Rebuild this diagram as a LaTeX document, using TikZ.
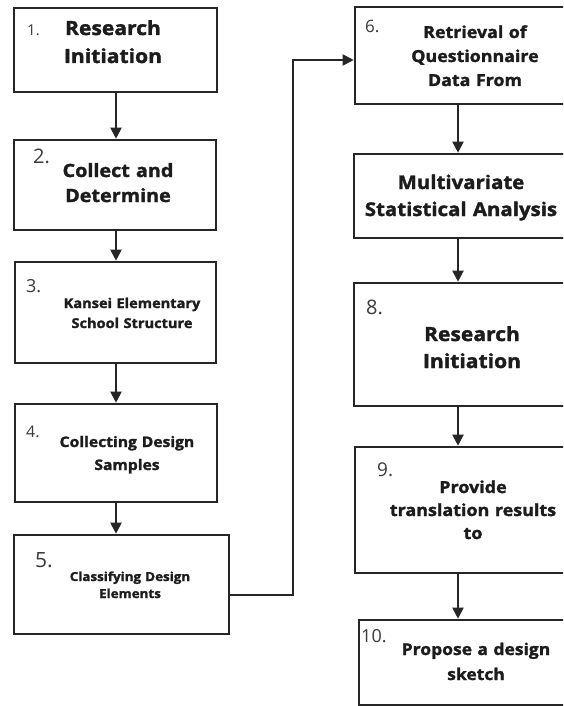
\documentclass[tikz,border=0pt]{standalone}
\usepackage{fontspec}
\setmainfont{Open Sans}
\newfontfamily\boxfont{Open Sans}[FakeStretch=1.08,FakeBold=1.6]
\usetikzlibrary{arrows.meta}
\definecolor{linec}{HTML}{262626}
\definecolor{textc}{HTML}{1C1C1C}
\definecolor{numc}{HTML}{3A3A3A}
\tikzset{
  box/.style={draw=linec, line width=2.6pt, inner sep=0pt, fill=white},
  txt/.style={text width=230pt, align=center, anchor=base, inner sep=0pt, text=textc},
  num/.style={anchor=base west, inner sep=0pt, text=numc},
  arr/.style={draw=linec, line width=2pt, line join=miter, -{Triangle[length=11pt,width=11pt]}}
}
\newcommand{\bx}[2]{\boxfont\bfseries\fontsize{#1}{#2}\selectfont}
\newcommand{\nm}[1]{\fontsize{#1}{#1}\selectfont}
\begin{document}
\begin{tikzpicture}[x=1pt,y=-1pt]
\useasboundingbox (0,0) rectangle (563,706);
\clip (0,0) rectangle (563,706);
\fill[white] (0,0) rectangle (563,706);

% left column boxes
\node[box, minimum width=203pt, minimum height=84pt] (b1) at (115.5,50) {};
\node[box, minimum width=202pt, minimum height=90pt] (b2) at (115,185) {};
\node[box, minimum width=201pt, minimum height=101pt] (b3) at (115.5,312.5) {};
\node[box, minimum width=202pt, minimum height=98pt] (b4) at (116,453) {};
\node[box, minimum width=215pt, minimum height=99pt] (b5) at (121.5,584.5) {};

% right column boxes (run past the right edge)
\node[box, minimum width=225pt, minimum height=97pt] (b6) at (467.5,55.5) {};
\node[box, minimum width=226pt, minimum height=84pt] (b7) at (467,196) {};
\node[box, minimum width=226pt, minimum height=123pt] (b8) at (467,344.5) {};
\node[box, minimum width=225pt, minimum height=126pt] (b9) at (467.5,510) {};
\node[box, minimum width=221pt, minimum height=85pt] (b10) at (469.5,662.5) {};

% texts
\node[txt, font=\bx{19.5}{28}] (t1) at (113,35) {Research\\Initiation};
\node[txt, font=\bx{18.3}{25}] (t2) at (118,177) {Collect and\\Determine};
\node[txt, font=\bx{13.5}{20}] (t3) at (132,308) {Kansei Elementary\\School Structure};
\node[txt, font=\bx{14.5}{23}] (t4) at (127,447) {Collecting Design\\Samples};
\node[txt, font=\bx{12.4}{17}] (t5) at (130,581) {Classifying Design\\Elements};
\node[txt, font=\bx{16.5}{24}] (t6) at (475,38) {Retrieval of\\Questionnaire\\Data From};
\node[txt, font=\bx{18.9}{27}] (t7) at (461,189) {Multivariate\\Statistical Analysis};
\node[txt, font=\bx{19.5}{27}] (t8) at (472,341) {Research\\Initiation};
\node[txt, font=\bx{16.6}{23}] (t9) at (473,493) {Provide\\translation results\\to};
\node[txt, font=\bx{16.2}{25}] (t10) at (476,655) {Propose a design\\sketch};

% numbers
\node[num, font=\nm{15}] (n1) at (27,36) {1.};
\node[num, font=\nm{20}] (n2) at (33,163) {2.};
\node[num, font=\nm{18}] (n3) at (26,292) {3.};
\node[num, font=\nm{16}] (n4) at (26,437) {4.};
\node[num, font=\nm{21}] (n5) at (35,567) {5.};
\node[num, font=\nm{17}] (n6) at (365,33) {6.};
\node[num, font=\nm{20}] (n8) at (366,314) {8.};
\node[num, font=\nm{19}] (n9) at (377,476) {9.};
\node[num, font=\nm{18}] (n10) at (361,642) {10.};

% connectors
\coordinate (lx) at (116,0);
\coordinate (rx) at (458,0);
\draw[arr] (b1.south -| lx) -- (b2.north -| lx);
\draw[arr] (b2.south -| lx) -- (b3.north -| lx);
\draw[arr] (b3.south -| lx) -- (b4.north -| lx);
\draw[arr] (b4.south -| lx) -- (b5.north -| lx);
\coordinate (y5) at (0,595);
\coordinate (tr) at (293,60);
\draw[arr] (b5.east |- y5) -| (tr) -- (b6.west |- tr);
\draw[arr] (b6.south -| rx) -- (b7.north -| rx);
\draw[arr] (b7.south -| rx) -- (b8.north -| rx);
\draw[arr] (b8.south -| rx) -- (b9.north -| rx);
\draw[arr] (b9.south -| rx) -- (b10.north -| rx);
\end{tikzpicture}
\end{document}
